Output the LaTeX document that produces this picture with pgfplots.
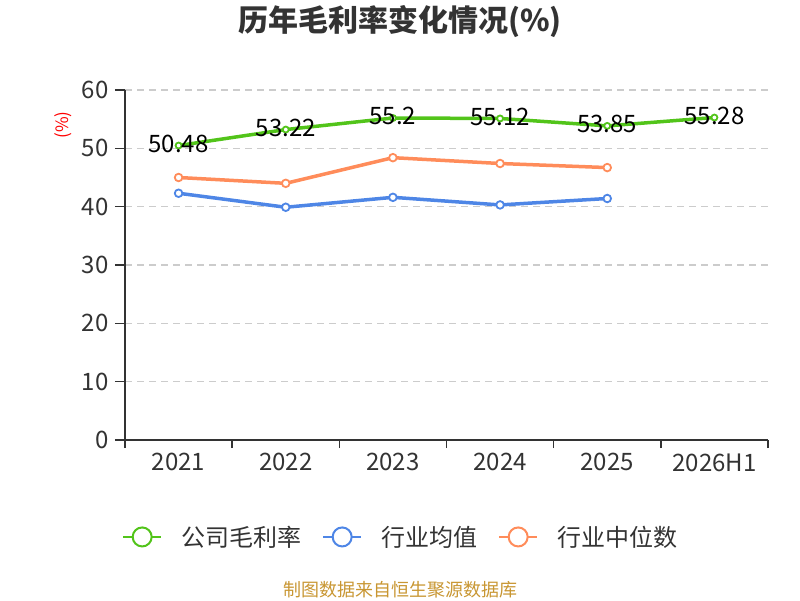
\documentclass[border=0pt]{standalone}
\usepackage{pgfplots}
\pgfplotsset{compat=1.18}
\usepackage{fontspec}
\setmainfont{Noto Sans CJK SC}
\definecolor{cgreen}{RGB}{82,196,26}
\definecolor{cblue}{RGB}{78,134,230}
\definecolor{corange}{RGB}{255,140,90}
\definecolor{ctext}{RGB}{51,51,51}
\definecolor{caxis}{RGB}{51,51,51}
\definecolor{cgrid}{RGB}{204,204,204}
\definecolor{cfoot}{RGB}{200,150,50}
\begin{document}
\begin{tikzpicture}
\path[use as bounding box] (0pt,0pt) rectangle (800pt,600pt);
\node[font=\fontsize{30}{36}\selectfont\bfseries, text=ctext] at (400pt,578pt) {历年毛利率变化情况(\%)};
\node[rotate=90, text=red, font=\fontsize{17}{20}\selectfont] at (63pt,475pt) {(\%)};
\node[text=cfoot, font=\fontsize{18}{22}\selectfont] at (400pt,10pt) {制图数据来自恒生聚源数据库};
\begin{axis}[
  at={(125pt,160pt)}, anchor=south west,
  scale only axis, width=643pt, height=350pt,
  xmin=-0.5, xmax=5.5, ymin=0, ymax=60,
  clip=false,
  axis x line*=bottom, axis y line*=left,
  axis line style={draw=caxis, line width=1.6pt},
  tick style={draw=caxis, line width=1.6pt},
  major tick length=10pt, minor tick length=8pt,
  tick align=outside,
  xtick={0,...,5},
  xticklabels={2021,2022,2023,2024,2025,2026H1},
  minor xtick={-0.5,0.5,...,5.5},
  major x tick style={draw=none},
  ytick={0,10,...,60},
  ymajorgrids,
  major grid style={draw=cgrid, dash pattern=on 7pt off 5pt, line width=1.5pt},
  ticklabel style={font=\fontsize{24}{28}\selectfont, text=ctext},
  yticklabel style={xshift=-3pt},
  /pgf/number format/assume math mode=true,
  legend columns=3,
  legend style={at={(-0.0047,-0.277)}, anchor=west, draw=none, fill=none, inner sep=0pt,
    font=\fontsize{24}{28}\selectfont, text=ctext,
    nodes={inner sep=0pt},
    /tikz/every odd column/.append style={column sep=19pt},
    /tikz/every even column/.append style={column sep=21pt}},
  legend image code/.code={
    \draw[#1, line width=2pt] (0pt,0pt) -- (38pt,0pt);
    \draw[#1, line width=2pt, fill=white] (19pt,0pt) circle (9.5pt);
  },
]
\addplot[color=cgreen, line width=3.5pt, mark=*, mark size=3pt,
  mark options={fill=white, line width=1.8pt},
  nodes near coords, point meta=explicit symbolic,
  every node near coord/.append style={anchor=center, text=black, yshift=2pt,
    font=\fontsize{24}{28}\selectfont}]
  coordinates {(0,50.48)[50.48] (1,53.22)[53.22] (2,55.2)[55.2] (3,55.12)[55.12] (4,53.85)[53.85] (5,55.28)[55.28]};
\addlegendentry{公司毛利率}
\addplot[color=cblue, line width=3.5pt, mark=*, mark size=3.8pt,
  mark options={fill=white, line width=1.8pt}]
  coordinates {(0,42.3) (1,39.9) (2,41.6) (3,40.3) (4,41.4)};
\addlegendentry{行业均值}
\addplot[color=corange, line width=3.5pt, mark=*, mark size=3.8pt,
  mark options={fill=white, line width=1.8pt}]
  coordinates {(0,45.0) (1,44.0) (2,48.4) (3,47.4) (4,46.7)};
\addlegendentry{行业中位数}
\end{axis}
\end{tikzpicture}
\end{document}
